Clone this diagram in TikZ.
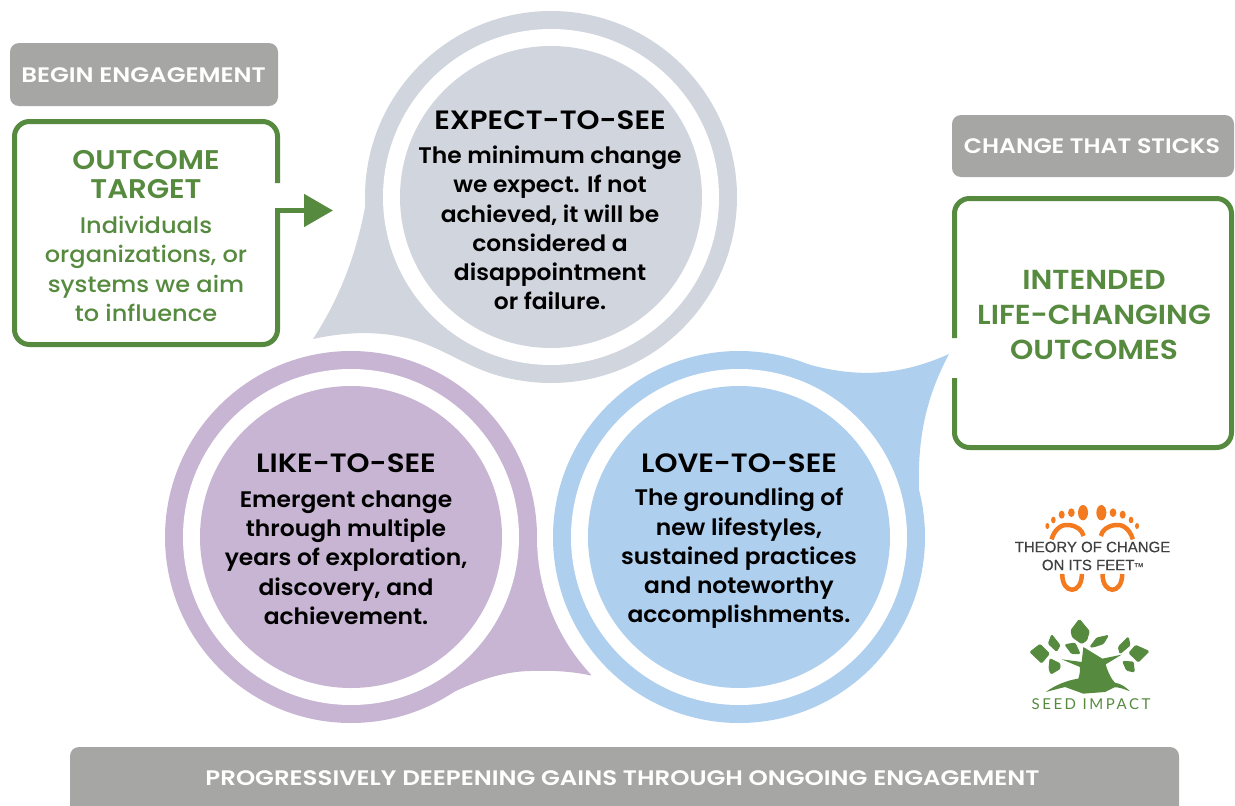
\documentclass[tikz,border=0pt]{standalone}
\usepackage{fontspec}
\usetikzlibrary{arrows.meta}
\setmainfont{Poppins Medium}
\newfontfamily\labelfont{Poppins SemiBold}[FakeStretch=1.13]
\newfontfamily\labelwide{Poppins SemiBold}[FakeStretch=1.165]
\newfontfamily\headfont{Poppins SemiBold}[FakeStretch=1.105]
\newfontfamily\blackfont{Poppins SemiBold}[FakeStretch=1.04]
\newfontfamily\greenhead{Poppins SemiBold}[FakeStretch=1.08]
\newfontfamily\greenbody{Poppins Medium}[FakeStretch=1.07]
\newfontfamily\logofont{Liberation Sans}[FakeBold=0.3]
\newfontfamily\seedfont{Lato}[LetterSpace=17]
\definecolor{ggreen}{HTML}{568A3F}
\definecolor{boxgrey}{HTML}{A6A6A5}
\definecolor{cgrey}{HTML}{D1D5DD}
\definecolor{cpurple}{HTML}{C7B5D3}
\definecolor{cblue}{HTML}{AFCFEF}
\definecolor{corange}{HTML}{F47A20}
\definecolor{logotext}{HTML}{404040}
\tikzset{
 x=1pt,y=-1pt,
 labelbox/.style={fill=boxgrey,rounded corners=9pt,draw=none},
 labeltext/.style={text=white,inner sep=0pt,font=\labelfont\fontsize{21}{21}\selectfont},
 labelwidetext/.style={text=white,inner sep=0pt,font=\labelwide\fontsize{21}{21}\selectfont},
 greenline/.style={draw=ggreen,line width=5pt,rounded corners=15pt,line cap=butt},
 head/.style={inner sep=0pt,text=black,font=\headfont\fontsize{26.5}{26.5}\selectfont},
 bodytext/.style={inner sep=0pt,text=black,align=center,font=\blackfont\fontsize{22.5}{29.3}\selectfont},
 ghead/.style n args={2}{inner sep=0pt,text=ggreen,align=center,font=\greenhead\fontsize{#1}{#2}\selectfont},
 gbody/.style={inner sep=0pt,text=ggreen,align=center,font=\greenbody\fontsize{22.5}{29.3}\selectfont},
 leaf/.style={fill=ggreen,draw=ggreen,line width=.9pt,line join=round,rounded corners=1.2pt},
 footline/.style={draw=corange,line width=4.5pt,line cap=butt},
 toe/.style={fill=corange,draw=none},
}
\begin{document}
\begin{tikzpicture}
\useasboundingbox (0,0) rectangle (1235,806);
% labels
\fill[labelbox] (10,43) rectangle (278,106);
\node[labelwidetext] (begin) at (143.5,75.5) {BEGIN ENGAGEMENT};
\fill[labelbox] (952,115) rectangle (1234,177);
\node[labeltext] (change) at (1092,146.5) {CHANGE THAT STICKS};
\begin{scope}
\clip (0,0) rectangle (1235,806);
\fill[labelbox] (70,747) rectangle (1179,830);
\end{scope}
\node[labelwidetext] (deep) at (622.5,778) {PROGRESSIVELY DEEPENING GAINS THROUGH ONGOING ENGAGEMENT};
% grey bubble
\fill[cgrey] (551,197) circle[radius=186];
\fill[cgrey] (313,339) .. controls (345,290) and (367,230) .. (372,150) -- (520,250) -- (520,380) .. controls (480,375) and (455,355) .. (423,343) .. controls (385,329) and (345,332) .. cycle;
% purple bubble
\fill[cpurple] (351,537) circle[radius=186];
\fill[cpurple] (418,709) .. controls (450,695) and (485,672) .. (530,671) .. controls (555,670) and (575,672) .. (591,675.5) -- (600,535) -- (500,535) -- cycle;
% blue bubble
\fill[white] (739,537) circle[radius=202];
\fill[cblue] (739,537) circle[radius=186];
\fill[cblue] (780,356) .. controls (830,372) and (880,385) .. (949,354) .. controls (930,390) and (917,430) .. (919,490) -- (800,500) -- cycle;
% rings
\fill[white] (551,197) circle[radius=168];
\fill[cgrey] (551,197) circle[radius=151];
\fill[white] (351,537) circle[radius=168];
\fill[cpurple] (351,537) circle[radius=151];
\fill[white] (739,537) circle[radius=168];
\fill[cblue] (739,537) circle[radius=151];
% outcome box
\coordinate (otop) at (277.5,183);
\coordinate (obot) at (277.5,210.5);
\coordinate (otip) at (333,210.5);
\draw[greenline] (otop) -- (277.5,121.5) -- (14.5,121.5) -- (14.5,344.5) -- (277.5,344.5) -- (obot);
\draw[draw=ggreen,line width=5pt,-{Triangle[length=29pt,width=32pt]}] (275,210.5) -- (otip);
% outcomes box
\draw[greenline] (954.5,338) -- (954.5,198.5) -- (1231.5,198.5) -- (1231.5,447.5) -- (954.5,447.5) -- (954.5,378);
% texts
\node[ghead={27}{29}] (ot) at (146,174.5) {OUTCOME\\TARGET};
\node[gbody] (otb) at (146,269) {Individuals\\organizations, or\\systems we aim\\to influence};
\node[ghead={27.5}{35}] (io) at (1094,315) {INTENDED\\LIFE-CHANGING\\OUTCOMES};
\node[head] (e) at (550,120) {EXPECT-TO-SEE};
\node[bodytext] (eb) at (550,228) {The minimum change\\we expect. If not\\achieved, it will be\\considered a\\disappointment\\or failure.};
\node[head] (l) at (346,463) {LIKE-TO-SEE};
\node[bodytext] (lb) at (346,557.5) {Emergent change\\through multiple\\years of exploration,\\discovery, and\\achievement.};
\node[head] (v) at (739,463) {LOVE-TO-SEE};
\node[bodytext] (vb) at (739,558.5) {The groundling of\\new lifestyles,\\sustained practices\\and noteworthy\\accomplishments.};
% feet logo
\begin{scope}[shift={(1092.2,500)},scale=.3333]
\foreach \m in {1,-1}{
\begin{scope}[xscale=\m]
\fill[toe] (-27.5,38) ellipse[x radius=15,y radius=23];
\fill[toe] (-62.5,38) ellipse[x radius=10,y radius=13];
\fill[toe] (-91.5,44) ellipse[x radius=9,y radius=12];
\fill[toe] (-116.5,60) ellipse[x radius=7,y radius=10];
\fill[toe] (-134.5,78) ellipse[x radius=6,y radius=9];
\draw[footline] (-122,118) .. controls (-112,85) and (-90,72) .. (-70,75) .. controls (-45,78) and (-30,90) .. (-26,108);
\draw[footline] (-90,222) .. controls (-90,285) and (-31,285) .. (-31,222);
\end{scope}}
\end{scope}
\node[inner sep=0pt,text=logotext,align=center,font=\logofont\fontsize{15}{18}\selectfont] (toc) at (1092.5,556) {THEORY OF CHANGE\\ON ITS FEET\raisebox{3pt}{\fontsize{6}{6}\selectfont TM}};
% tree logo
\begin{scope}[shift={(1025,612)},scale=.3333]
\path[leaf] (163,22) -- (193,58) -- (185,85) -- (170,95) -- (142,75) -- (138,55) -- cycle;
\path[leaf] (15,120) -- (45,97) -- (73,125) -- (50,153) -- cycle;
\path[leaf] (80,68) -- (105,100) -- (95,118) -- (70,95) -- cycle;
\path[leaf] (75,140) -- (105,155) -- (105,170) -- (78,186) -- (72,170) -- cycle;
\path[leaf] (120,98) -- (150,93) -- (165,125) -- (140,125) -- cycle;
\path[leaf] (195,105) -- (215,78) -- (250,70) -- (235,95) -- (205,105) -- cycle;
\path[leaf] (310,75) -- (315,100) -- (285,125) -- (280,105) -- cycle;
\path[leaf] (312,123) -- (332,100) -- (372,118) -- (340,150) -- cycle;
\path[leaf] (293,148) -- (325,150) -- (328,180) -- (305,175) -- cycle;
\fill[ggreen] (175,105) -- (232,140) -- (290,128) -- (242,157) .. controls (250,185) and (262,205) .. (270,212) .. controls (290,215) and (305,228) .. (315,238) .. controls (295,230) and (280,225) .. (268,226) -- (240,240) -- (175,245) -- (120,225) -- (62,240) .. controls (90,220) and (125,205) .. (160,200) .. controls (165,185) and (165,175) .. (165,165) -- (110,142) -- (170,150) -- cycle;
\end{scope}
\node[inner sep=0pt,text=ggreen,font=\seedfont\fontsize{15}{15}\selectfont] (seed) at (1091,704) {SEED IMPACT};
\end{tikzpicture}
\end{document}
